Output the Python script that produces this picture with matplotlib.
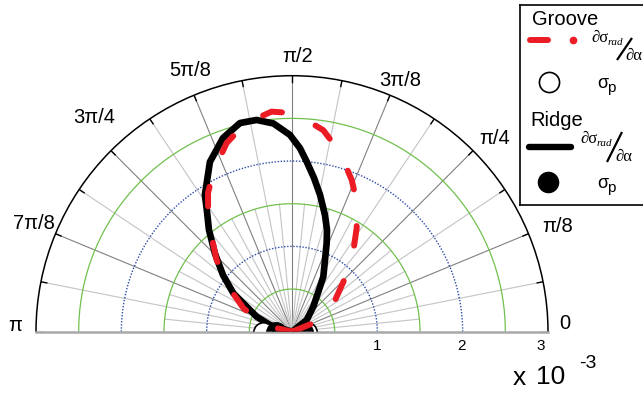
import numpy as np
import matplotlib
matplotlib.use('Agg')
import matplotlib.pyplot as plt

plt.rcParams['font.family'] = ['Liberation Sans', 'DejaVu Sans']

# ---------------- data ----------------
angle_tick_labels = ['0', 'π/8', 'π/4', '3π/8', 'π/2', '5π/8', '3π/4', '7π/8', 'π']
radial_tick_values = [1, 2, 3]
radial_tick_labels = ['1', '2', '3']
r_max = 3

# Ridge  d sigma_rad / d alpha  (theta in degrees, r in units of 1e-3)
ridge_theta_deg = [28, 38.5, 49.6, 57.1, 60.35, 68.6, 71.0, 74.2, 78.4, 81.85, 85.06,
                   87.5, 90.6, 95.1, 99.5, 104, 109.6, 115.8, 122.5, 125, 129.2, 134.5,
                   140.6, 146.8, 157, 163, 170]
ridge_r = [0.0, 0.22, 0.385, 0.58, 0.742, 1.113, 1.26, 1.42, 1.636, 1.82, 2.0,
           2.152, 2.306, 2.45, 2.516, 2.52, 2.41, 2.21, 1.90, 1.74, 1.54, 1.29,
           1.047, 0.82, 0.45, 0.27, 0.0]

# Groove d sigma_rad / d alpha
groove_theta_deg = [12, 22, 30, 36.4, 45.2, 53.1, 58, 63.5, 68.5, 75.1, 81.2, 89.2, 95.3,
                    102.7, 109.1, 116.2, 121.2, 127.3, 136.4, 144.8, 154.3, 160, 167, 175]
groove_r = [0.0, 0.35, 0.5, 0.63, 0.88, 1.20, 1.43, 1.70, 1.91, 2.18, 2.39, 2.56, 2.59,
            2.50, 2.34, 2.09, 1.90, 1.62, 1.22, 0.91, 0.63, 0.45, 0.25, 0.0]

# sigma_p points
groove_sp_theta_deg = [0, 180]
groove_sp_r = [0.18, 0.34]
ridge_sp_theta_deg = [0, 180]
ridge_sp_r = [0.13, 0.19]

# ---------------- figure ----------------
W, H = 643, 394
fig = plt.figure(figsize=(W / 100, H / 100), dpi=100)
cx, cy, R = 292, 331.7, 256
# polar axes box is square; the half-disc sits in its middle half
ax = fig.add_axes([(cx - R) / W, (H - (cy + 0.5 * R)) / H, 2 * R / W, 2 * R / H],
                  projection='polar')
ax.set_thetamin(0)
ax.set_thetamax(180)
ax.set_ylim(0, r_max)
ax.set_xticks([])
ax.set_yticks([])
ax.grid(False)
ax.spines['polar'].set_color('black')
ax.spines['polar'].set_linewidth(1.1)
for s in ('start', 'end'):
    ax.spines[s].set_color('#a8a8a8')
    ax.spines[s].set_linewidth(1.8)

RED = '#ec1c24'
GREEN = '#72c04e'
BLUE = '#2d4ca6'
DARK = '#808080'
LIGHT = '#c4c4c4'

# spokes
for k in range(1, 16):
    th = k * np.pi / 16
    col = DARK if k % 2 == 0 else LIGHT
    ax.plot([th, th], [0, r_max], color=col, lw=0.8, zorder=1)
for k in range(1, 32, 2):
    th = k * np.pi / 32
    ax.plot([th, th], [0, 1.5], color=LIGHT, lw=0.8, zorder=1)
# outer tick marks
for k in range(0, 17):
    th = k * np.pi / 16
    ax.plot([th, th], [2.93, r_max], color='black', lw=1.0, zorder=2)

# circles
circ = np.linspace(0, np.pi, 361)
for rr in (0.5, 1.5, 2.5):
    ax.plot(circ, np.full_like(circ, rr), color=GREEN, lw=0.9, zorder=1)
for rr in (1, 2):
    ax.plot(circ, np.full_like(circ, rr), color=BLUE, lw=1.0, ls=(0, (1, 1.2)), zorder=1)

# curves
ax.plot(np.deg2rad(ridge_theta_deg), ridge_r, color='black', lw=4.8,
        solid_capstyle='round', solid_joinstyle='round', zorder=3)
ax.plot(np.deg2rad(groove_sp_theta_deg), groove_sp_r, 'o', ms=14, mfc='white',
        mec='black', mew=1.2, zorder=4)
ax.plot(np.deg2rad(ridge_sp_theta_deg), ridge_sp_r, 'o', ms=14, mfc='black',
        mec='black', zorder=5)
ax.plot(np.deg2rad(groove_theta_deg), groove_r, color=RED, lw=4.3,
        ls=(0, (3.3, 6.2)), dash_capstyle='round', zorder=6)

# angle labels
label_pos = [(1.8, 3.20), (21.7, 3.35), (43.7, 3.28), (66.7, 3.20), (88.9, 3.23),
             (111.3, 3.29), (132.7, 3.42), (157.2, 3.28), (178.8, 3.25)]
for lbl, (tdeg, rr) in zip(angle_tick_labels, label_pos):
    ax.text(np.deg2rad(tdeg), rr, lbl, ha='center', va='center', fontsize=14.5,
            clip_on=False)

# radial labels
rad_offsets = [0, -1.5, -7]
for v, lbl, dx in zip(radial_tick_values, radial_tick_labels, rad_offsets):
    ax.annotate(lbl, xy=(0, v), xytext=(dx, -14), textcoords='offset pixels',
                ha='center', va='center', fontsize=11, annotation_clip=False)

fig.text(519 / W, 1 - 378 / H, 'x', ha='center', va='center', fontsize=19)
fig.text(551 / W, 1 - 376.5 / H, '10', ha='center', va='center', fontsize=19)
fig.text(588 / W, 1 - 363.5 / H, '-3', ha='center', va='center', fontsize=14)

# ---------------- legend box ----------------
lax = fig.add_axes([520 / W, (H - 205) / H, 130 / W, 200 / H])
lax.set_xlim(520, 650)
lax.set_ylim(205, 5)
lax.set_xticks([])
lax.set_yticks([])
for s in lax.spines.values():
    s.set_linewidth(1.2)
    s.set_color('black')

SERIF = ['Liberation Serif', 'DejaVu Serif']

def frac(x0, y0, slash):
    lax.text(x0, y0, '∂σ', ha='left', va='center', fontsize=12, family=SERIF)
    lax.text(x0 + 16.5, y0 + 4.5, 'rad', ha='left', va='center', fontsize=8,
             family=SERIF, style='italic')
    (sx0, sy0), (sx1, sy1) = slash
    lax.plot([sx0, sx1], [sy0, sy1], color='black', lw=1.6, solid_capstyle='butt')
    lax.text(slash[0][0] + 8, y0 + 18, '∂α', ha='left', va='center', fontsize=12,
             family=SERIF)

lax.text(532, 19, 'Groove', ha='left', va='center', fontsize=14.5)
lax.plot([530, 548], [40, 40], color=RED, lw=4.3, solid_capstyle='round')
lax.plot([573], [40], 'o', color=RED, ms=4.5)
frac(591, 38, ((617, 60), (632, 38)))
lax.plot([549.3], [81.7], 'o', ms=14.5, mfc='white', mec='black', mew=1.2)
lax.text(597, 83, 'σ', ha='left', va='center', fontsize=13)
lax.text(607.5, 88, 'p', ha='left', va='center', fontsize=11)

lax.text(530, 120, 'Ridge', ha='left', va='center', fontsize=14.5)
lax.plot([529, 571], [146.7, 146.7], color='black', lw=4.6, solid_capstyle='round')
frac(580, 139, ((607, 162), (622, 132)))
lax.plot([548.3], [181.7], 'o', ms=14.5, mfc='black', mec='black')
lax.text(597, 183, 'σ', ha='left', va='center', fontsize=13)
lax.text(607.5, 188, 'p', ha='left', va='center', fontsize=11)

fig.savefig('out.png', dpi=100)
